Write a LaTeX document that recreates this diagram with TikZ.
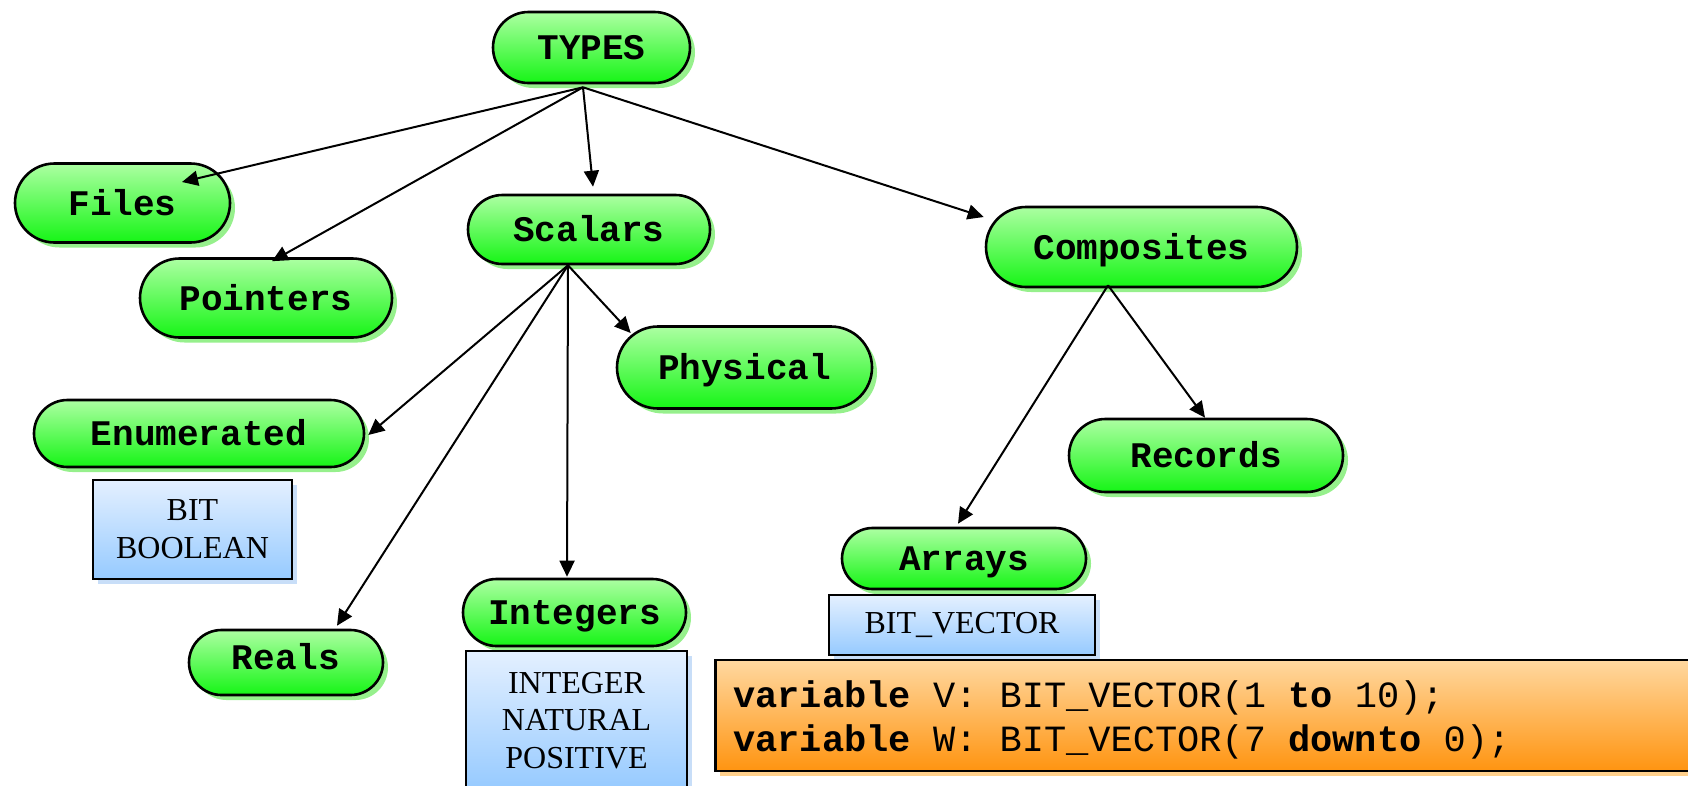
\documentclass[tikz,border=0pt]{standalone}
\usepackage{fontspec}
\setmainfont{Liberation Serif}
\setmonofont{Liberation Mono}
\usetikzlibrary{shapes.misc,arrows.meta,shadows,calc}

\definecolor{gtop}{RGB}{172,255,162}
\definecolor{gbot}{RGB}{22,245,22}
\definecolor{gshadow}{RGB}{150,240,140}
\definecolor{btop}{RGB}{228,240,255}
\definecolor{bbot}{RGB}{150,202,255}
\definecolor{bshadow}{RGB}{200,222,248}
\definecolor{otop}{RGB}{255,216,160}
\definecolor{obot}{RGB}{255,148,16}
\definecolor{oshadow}{RGB}{255,208,140}

\begin{document}
\begin{tikzpicture}[x=1pt,y=-1pt,
  typebox/.style={rounded rectangle, draw=black, line width=2.6pt,
    top color=gtop, bottom color=gbot, inner sep=0pt,
    text height=24pt, text depth=0pt,
    font=\fontsize{36}{40}\selectfont\ttfamily\bfseries,
    drop shadow={shadow xshift=5pt, shadow yshift=-5pt, fill=gshadow, opacity=1}},
  listbox/.style={rectangle, draw=black, line width=2.2pt,
    top color=btop, bottom color=bbot, align=center,
    font=\fontsize{32}{38}\selectfont\rmfamily,
    drop shadow={shadow xshift=5pt, shadow yshift=-5pt, fill=bshadow, opacity=1}},
  codebox/.style={rectangle, draw=black, line width=2.6pt,
    top color=otop, bottom color=obot,
    drop shadow={shadow xshift=5pt, shadow yshift=-5pt, fill=oshadow, opacity=1}},
  codetext/.style={align=left, inner sep=0pt,
    font=\fontsize{37}{44}\selectfont\ttfamily},
  conn/.style={line width=2pt, -{Triangle[length=16pt,width=15pt]}}]

\useasboundingbox (0,0) rectangle (1688,785);
\clip (0,0) rectangle (1688,785);

% type hierarchy
\node[typebox, minimum width=197pt, minimum height=71pt] (types) at (591.5,47.5) {TYPES};
\node[typebox, minimum width=215pt, minimum height=79pt] (files) at (122.5,203) {Files};
\node[typebox, minimum width=252pt, minimum height=79pt] (pointers) at (266,298) {Pointers};
\node[typebox, minimum width=242pt, minimum height=69pt] (scalars) at (589,229.5) {Scalars};
\node[typebox, minimum width=311pt, minimum height=80pt] (composites) at (1141.5,247) {Composites};
\node[typebox, minimum width=255pt, minimum height=82pt] (physical) at (744.5,367.5) {Physical};
\node[typebox, minimum width=330pt, minimum height=67pt] (enumerated) at (199,433.5) {Enumerated};
\node[typebox, minimum width=274pt, minimum height=73pt] (records) at (1206,455.5) {Records};
\node[typebox, minimum width=194pt, minimum height=65pt, text depth=10pt] (reals) at (286,662.5) {Reals};
\node[typebox, minimum width=223pt, minimum height=67pt] (integers) at (574.5,612.5) {Integers};
\node[typebox, minimum width=244pt, minimum height=61pt] (arrays) at (964,558.5) {Arrays};

% predefined types
\node[listbox, minimum width=199pt, minimum height=99pt] (enumlist) at (192.5,529.5) {BIT\\BOOLEAN};
\node[listbox, anchor=north, minimum width=221pt, inner ysep=21pt,
      font=\fontsize{32}{37.5}\selectfont\rmfamily] (intlist) at (576.5,650) {INTEGER\\NATURAL\\POSITIVE};
\node[listbox, minimum width=266pt, minimum height=60pt] (arrlist) at (962,625) {BIT\_VECTOR};

% array declarations
\node[codebox, anchor=west, minimum width=990pt, minimum height=111pt] (code) at (714,715.5) {};
\node[codetext, anchor=west] (codelines) at ($(code.west)+(19,4)$)
  {\textbf{variable} V: BIT\_VECTOR(1 \textbf{to} 10);\\
   \textbf{variable} W: BIT\_VECTOR(7 \textbf{downto} 0);};

% connectors
\coordinate (tO) at ($(types.south)+(-8.5,3)$);
\draw[conn] (tO) -- ($(files.center)+(59.5,-21)$);
\draw[conn] (tO) -- ($(pointers.north)+(6,4)$);
\draw[conn] (tO) -- ($(scalars.north)+(4,-7)$);
\draw[conn] (tO) -- ($(composites.west)+(-1,-30)$);

\coordinate (sO) at ($(scalars.south)+(-21,0)$);
\draw[conn] (sO) -- ($(enumerated.east)+(3,1.5)$);
\draw[conn] (sO) -- ($(reals.north)+(51,-3)$);
\draw[conn] (sO) -- ($(integers.north)+(-7.5,-1)$);
\draw[conn] (sO) -- ($(physical.west)+(15,-34.5)$);

\coordinate (cO) at ($(composites.south)+(-33.5,-3)$);
\draw[conn] (cO) -- ($(records.north)+(-1,0)$);
\draw[conn] (cO) -- ($(arrays.north)+(-6,-3)$);
\end{tikzpicture}
\end{document}
